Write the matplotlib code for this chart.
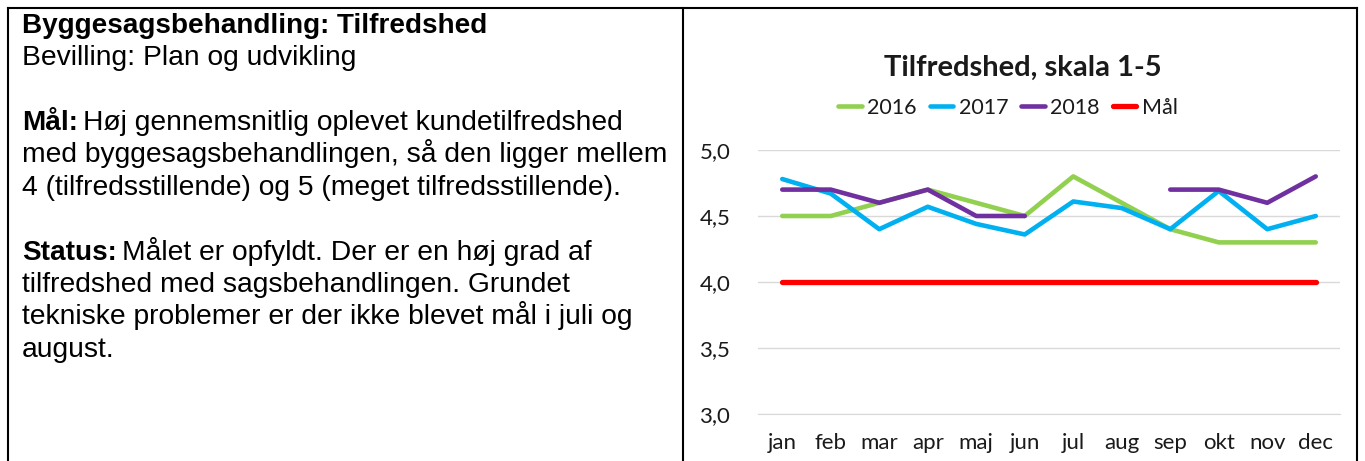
import numpy as np
import matplotlib.pyplot as plt
from matplotlib.lines import Line2D

# data
months = ['jan', 'feb', 'mar', 'apr', 'maj', 'jun', 'jul', 'aug', 'sep', 'okt', 'nov', 'dec']
y2016 = [4.5, 4.5, 4.6, 4.7, 4.6, 4.5, 4.8, 4.6, 4.4, 4.3, 4.3, 4.3]
y2017 = [4.78, 4.67, 4.4, 4.57, 4.44, 4.36, 4.61, 4.56, 4.4, 4.69, 4.4, 4.5]
y2018 = [4.7, 4.7, 4.6, 4.7, 4.5, 4.5, np.nan, np.nan, 4.7, 4.7, 4.6, 4.8]
maal = [4.0] * 12

W, H = 1365, 461
fig = plt.figure(figsize=(W / 100, H / 100), dpi=100)

def fx(px):
    return px / W

def fy(py):
    return 1 - py / H

# box borders
for (x0, y0, x1, y1) in [(8, 8, 1357, 8), (8, 8, 8, 461), (683, 8, 683, 461), (1357, 8, 1357, 461)]:
    fig.add_artist(Line2D([fx(x0), fx(x1)], [fy(y0), fy(y1)], color='black', lw=1.5))

# left text (y = baseline in px)
txt = dict(fontsize=20.3, family='Liberation Sans', va='baseline', ha='left', color='black')
bold = dict(txt, fontsize=20.1, fontweight='bold')
x_t = fx(22)
fig.text(x_t, fy(33), 'Byggesagsbehandling: Tilfredshed', **bold)
fig.text(x_t, fy(65), 'Bevilling: Plan og udvikling', **txt)

def mixed(y, b, rest):
    t = fig.text(x_t, fy(y), b, **bold)
    fig.canvas.draw()
    bb = t.get_window_extent()
    fig.text((bb.x1 + 5) / W, fy(y), rest, **txt)

mixed(130, 'Mål:', 'Høj gennemsnitlig oplevet kundetilfredshed')
fig.text(x_t, fy(162), 'med byggesagsbehandlingen, så den ligger mellem', **txt)
fig.text(x_t, fy(195), '4 (tilfredsstillende) og 5 (meget tilfredsstillende).', **txt)
mixed(260, 'Status:', 'Målet er opfyldt. Der er en høj grad af')
fig.text(x_t, fy(292), 'tilfredshed med sagsbehandlingen. Grundet', **txt)
fig.text(x_t, fy(324), 'tekniske problemer er der ikke blevet mål i juli og', **txt)
fig.text(x_t, fy(357), 'august.', **txt)

# chart
ax = fig.add_axes([fx(758), fy(414), fx(1340) - fx(758), fy(150) - fy(414)])
x = np.arange(len(months))
ax.plot(x, y2016, color='#92D050', lw=3.3, label='2016', solid_capstyle='round')
ax.plot(x, y2017, color='#00B0F0', lw=3.3, label='2017', solid_capstyle='round')
ax.plot(x, y2018, color='#7030A0', lw=3.3, label='2018', solid_capstyle='round')
ax.plot(x, maal, color='#FF0000', lw=3.8, label='Mål', solid_capstyle='round')

ax.set_xlim(-0.5, 11.5)
ax.set_ylim(3.0, 5.0)
ax.set_yticks([3.0, 3.5, 4.0, 4.5, 5.0])
ax.set_yticklabels(['3,0', '3,5', '4,0', '4,5', '5,0'])
ax.set_xticks(x)
ax.set_xticklabels(months)
ax.grid(axis='y', color='#D9D9D9', lw=1)
ax.set_axisbelow(True)
for s in ['top', 'right', 'left']:
    ax.spines[s].set_visible(False)
ax.spines['bottom'].set_color('#D9D9D9')
ax.tick_params(length=0, labelsize=16, colors='#1a1a1a')
ax.tick_params(axis='y', pad=20)
ax.tick_params(axis='x', pad=14)
for lab in ax.get_xticklabels() + ax.get_yticklabels():
    lab.set_family('Lato')

fig.text(fx(1023), fy(68), 'Tilfredshed, skala 1-5', ha='center', va='center',
         fontsize=21, fontweight='bold', family='Lato', color='#1a1a1a')
fig.legend(loc='center', bbox_to_anchor=(fx(1008), fy(108)), ncol=4, frameon=False,
           prop={'family': 'Lato', 'size': 15.5}, handlelength=1.1, handletextpad=0.25,
           columnspacing=0.6, labelcolor='#1a1a1a')

fig.savefig('out.png', dpi=100)
